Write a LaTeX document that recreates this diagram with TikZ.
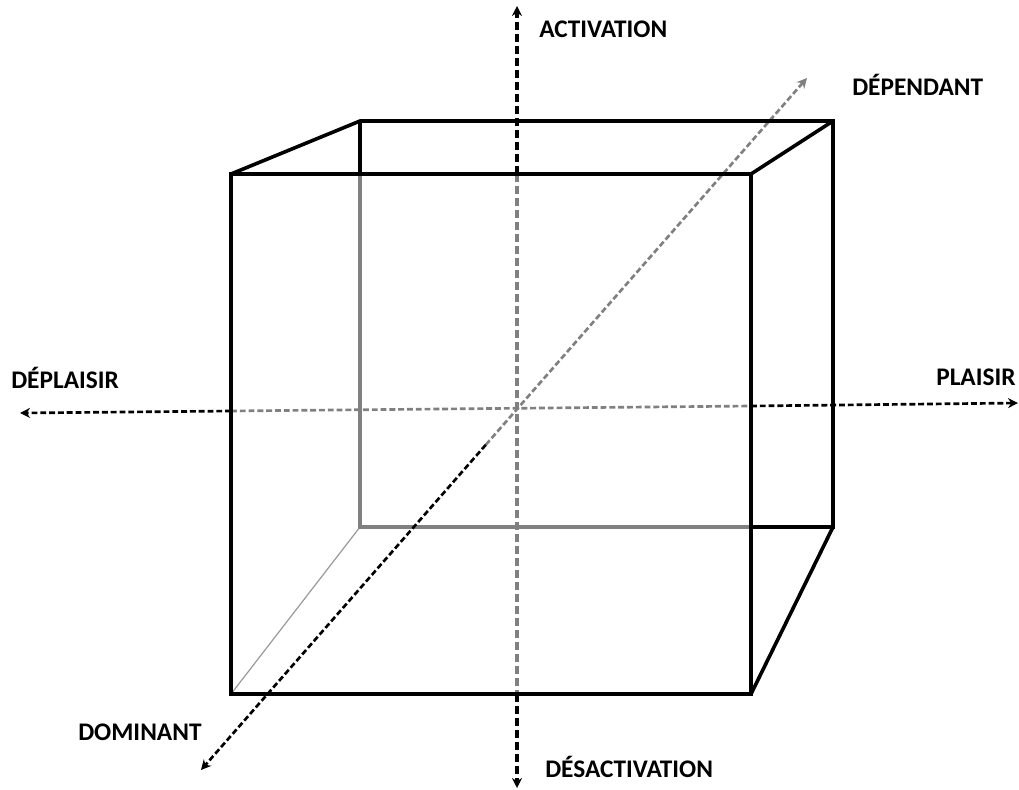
\documentclass[tikz,border=0pt]{standalone}
\usepackage{fontspec}
\setmainfont{Carlito}
\usetikzlibrary{arrows.meta,calc}

\begin{document}
\begin{tikzpicture}[x=0.75pt,y=-0.75pt,line join=miter,
  front/.style={line width=2.7pt,black},
  back/.style={line width=2.4pt,black!50},
  hidden/.style={line width=0.9pt,black!40},
  axis/.style={line width=2pt,dash pattern=on 4.4pt off 2.2pt},
  vaxis/.style={line width=2.4pt,dash pattern=on 6pt off 3pt},
  axisgray/.style={axis,black!50},
  vaxisgray/.style={vaxis,black!50},
  tip/.style={-{Stealth[length=7.5pt,width=7.5pt]}},
  lbl/.style={anchor=base west,inner sep=0pt,font=\bfseries\fontsize{19}{21}\selectfont}]
\useasboundingbox (0,0) rectangle (1019,789);

% cube corners
\coordinate (F1) at (231,174);
\coordinate (F2) at (751,174);
\coordinate (F3) at (751,694);
\coordinate (F4) at (231,694);
\coordinate (B1) at (360,121);
\coordinate (B2) at (833,121);
\coordinate (B3) at (833,527);
\coordinate (B4) at (360,527);
\coordinate (BL) at (360,174);
\coordinate (BR) at (751,527);

% axes ends
\coordinate (O) at (518,408);
\coordinate (Vtop) at (517,6);
\coordinate (Vbot) at (517,788);
\coordinate (Vin1) at (517,174);
\coordinate (Vin2) at (517,694);
\coordinate (Hleft) at (20,413);
\coordinate (Hright) at (1018,403);
\coordinate (Hin1) at (231,411);
\coordinate (Hin2) at (751,406);
\coordinate (Dup) at (807,78);
\coordinate (Ddown) at (201,770);
\coordinate (Dmid) at ($(Dup)!0.53!(Ddown)$);

% hidden edges
\draw[hidden] (F4) -- (B4);
\draw[back] (BL) -- (B4) -- (BR);

% axes
\draw[vaxisgray] (Vin1) -- (Vin2);
\draw[axisgray] (Hin1) -- (Hin2);
\draw[axisgray,tip] (Dmid) -- (Dup);
\draw[vaxis,tip] (Vin1) -- (Vtop);
\draw[vaxis,tip] (Vin2) -- (Vbot);
\draw[axis,tip] (Hin1) -- (Hleft);
\draw[axis,tip] (Hin2) -- (Hright);
\draw[axis,tip] (Dmid) -- (Ddown);

% visible edges
\draw[front] (F1) -- (F2) -- (F3) -- (F4) -- cycle;
\draw[front] (F1) -- (B1) -- (B2) -- (B3) -- (BR);
\draw[front] (B1) -- (BL);
\draw[front] (F2) -- (B2);
\draw[front] (F3) -- (B3);

% labels
\node[lbl] (act) at (539,37) {ACTIVATION};
\node[lbl] (desact) at (545,777) {DÉSACTIVATION};
\node[lbl] (plaisir) at (936,385) {PLAISIR};
\node[lbl] (deplaisir) at (11,388) {DÉPLAISIR};
\node[lbl] (dep) at (852,95) {DÉPENDANT};
\node[lbl] (dom) at (78,740) {DOMINANT};
\end{tikzpicture}
\end{document}
